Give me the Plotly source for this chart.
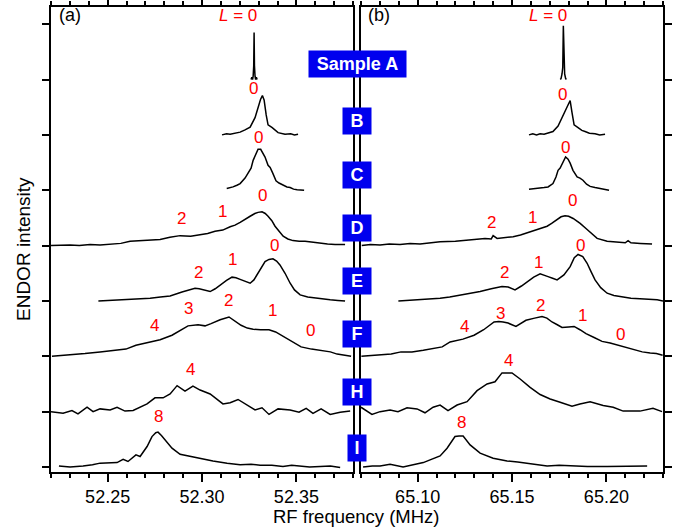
import plotly.graph_objects as go

# ---------------- data ----------------
samples = ["Sample A", "B", "C", "D", "E", "F", "H", "I"]
offsets = [7, 6, 5, 4, 3, 2, 1, 0]

a_left_f = [52.3260, 52.3264, 52.3268, 52.3271, 52.3274, 52.3276, 52.3278, 52.3281, 52.3284, 52.3288, 52.3292]
a_left_i = [0.0, 0.04, 0.0, 0.06, 0.25, 0.85, 0.25, 0.06, 0.0, 0.04, 0.0]
a_right_f = [65.1756, 65.1760, 65.1765, 65.1769, 65.1772, 65.1775, 65.1779, 65.1784, 65.1788]
a_right_i = [0.0, 0.02, 0.10, 0.22, 0.97, 0.22, 0.10, 0.02, 0.0]

b_left_f = [52.3106, 52.3130, 52.3149, 52.3175, 52.3202, 52.3228, 52.3255, 52.3281, 52.3297, 52.3310,
            52.3320, 52.3329, 52.3340, 52.3350, 52.3372, 52.3403, 52.3440, 52.3470, 52.3490, 52.3509]
b_left_i = [0.0, 0.02, 0.01, 0.03, 0.05, 0.09, 0.14, 0.31, 0.51, 0.64,
            0.71, 0.63, 0.36, 0.18, 0.13, 0.04, 0.01, 0.02, 0.0, 0.01]
b_right_f = [65.1590, 65.1610, 65.1630, 65.1649, 65.1670, 65.1691, 65.1717, 65.1744, 65.1765, 65.1786,
             65.1808, 65.1818, 65.1829, 65.1850, 65.1870, 65.1887, 65.1910, 65.1940, 65.1965, 65.1993]
b_right_i = [0.0, 0.02, 0.0, 0.02, 0.01, 0.03, 0.06, 0.16, 0.31, 0.45,
             0.62, 0.40, 0.18, 0.13, 0.08, 0.06, 0.03, 0.02, 0.0, 0.01]

c_left_f = [52.3131, 52.3150, 52.3164, 52.3185, 52.3202, 52.3228, 52.3244, 52.3260, 52.3271, 52.3286,
            52.3297, 52.3311, 52.3323, 52.3334, 52.3350, 52.3361, 52.3376, 52.3392, 52.3408, 52.3430,
            52.3450, 52.3467, 52.3485, 52.3504, 52.3541]
c_left_i = [0.03, 0.04, 0.06, 0.09, 0.12, 0.22, 0.30, 0.40, 0.54, 0.67,
            0.74, 0.74, 0.66, 0.60, 0.45, 0.41, 0.30, 0.17, 0.13, 0.09,
            0.06, 0.05, 0.02, 0.01, 0.0]
c_right_f = [65.1590, 65.1620, 65.1649, 65.1670, 65.1691, 65.1717, 65.1733, 65.1744, 65.1755, 65.1770,
             65.1784, 65.1797, 65.1808, 65.1823, 65.1845, 65.1860, 65.1876, 65.1895, 65.1914, 65.1940,
             65.1967, 65.1990, 65.2014]
c_right_i = [0.02, 0.03, 0.03, 0.05, 0.06, 0.12, 0.24, 0.36, 0.40, 0.49,
             0.60, 0.56, 0.49, 0.36, 0.24, 0.22, 0.18, 0.11, 0.07, 0.05,
             0.03, 0.02, 0.0]

d_left_f = [52.2200, 52.2250, 52.2301, 52.2350, 52.2407, 52.2460, 52.2513, 52.2570, 52.2619, 52.2700,
            52.2778, 52.2830, 52.2884, 52.2940, 52.2990, 52.3030, 52.3069, 52.3110, 52.3149, 52.3175,
            52.3202, 52.3230, 52.3255, 52.3280, 52.3297, 52.3318, 52.3335, 52.3350, 52.3370, 52.3387,
            52.3410, 52.3430, 52.3455, 52.3482, 52.3515, 52.3546, 52.3590, 52.3626, 52.3665, 52.3705, 52.3758]
d_left_i = [0.0, 0.01, 0.01, 0.0, 0.02, 0.01, 0.02, 0.04, 0.08, 0.09,
            0.11, 0.15, 0.18, 0.17, 0.20, 0.22, 0.26, 0.28, 0.34, 0.37,
            0.42, 0.47, 0.53, 0.58, 0.60, 0.61, 0.58, 0.53, 0.45, 0.35,
            0.25, 0.17, 0.12, 0.09, 0.08, 0.08, 0.06, 0.04, 0.03, 0.02, 0.02]
d_right_f = [65.0704, 65.0750, 65.0801, 65.0850, 65.0907, 65.0960, 65.1013, 65.1060, 65.1119, 65.1200,
             65.1278, 65.1320, 65.1357, 65.1390, 65.1400, 65.1421, 65.1460, 65.1506, 65.1545, 65.1580,
             65.1615, 65.1649, 65.1686, 65.1710, 65.1739, 65.1760, 65.1781, 65.1800, 65.1824, 65.1861,
             65.1898, 65.1925, 65.1951, 65.2004, 65.2060, 65.2100, 65.2115, 65.2130, 65.2180, 65.2242]
d_right_i = [0.0, 0.02, 0.01, 0.03, 0.02, 0.04, 0.03, 0.05, 0.07, 0.08,
             0.10, 0.11, 0.13, 0.12, 0.18, 0.13, 0.14, 0.16, 0.19, 0.23,
             0.27, 0.31, 0.35, 0.40, 0.47, 0.52, 0.54, 0.53, 0.49, 0.40,
             0.29, 0.20, 0.13, 0.08, 0.07, 0.05, 0.09, 0.05, 0.04, 0.03]

e_left_f = [52.2451, 52.2510, 52.2566, 52.2620, 52.2680, 52.2725, 52.2780, 52.2831, 52.2894, 52.2930,
            52.2963, 52.2985, 52.3006, 52.3043, 52.3070, 52.3096, 52.3130, 52.3159, 52.3180, 52.3202,
            52.3230, 52.3255, 52.3275, 52.3297, 52.3315, 52.3334, 52.3355, 52.3376, 52.3395, 52.3413,
            52.3440, 52.3467, 52.3490, 52.3520, 52.3560, 52.3599, 52.3640, 52.3679, 52.3720, 52.3758]
e_left_i = [0.0, 0.01, 0.02, 0.03, 0.04, 0.05, 0.07, 0.09, 0.16, 0.20,
            0.23, 0.22, 0.20, 0.17, 0.22, 0.29, 0.37, 0.43, 0.42, 0.39,
            0.35, 0.32, 0.38, 0.50, 0.61, 0.71, 0.75, 0.76, 0.72, 0.65,
            0.50, 0.32, 0.20, 0.11, 0.07, 0.05, 0.03, 0.02, 0.01, 0.0]
e_right_f = [65.0898, 65.0950, 65.1013, 65.1060, 65.1119, 65.1170, 65.1225, 65.1280, 65.1331, 65.1390,
             65.1447, 65.1480, 65.1516, 65.1550, 65.1580, 65.1615, 65.1649, 65.1670, 65.1691, 65.1715,
             65.1739, 65.1775, 65.1808, 65.1830, 65.1850, 65.1875, 65.1898, 65.1920, 65.1940, 65.1970,
             65.2004, 65.2040, 65.2088, 65.2130, 65.2178, 65.2225, 65.2269, 65.2300]
e_right_i = [0.0, 0.01, 0.02, 0.03, 0.05, 0.07, 0.10, 0.13, 0.17, 0.22,
             0.26, 0.25, 0.20, 0.27, 0.35, 0.43, 0.49, 0.47, 0.44, 0.41,
             0.38, 0.47, 0.62, 0.78, 0.84, 0.80, 0.68, 0.52, 0.38, 0.24,
             0.14, 0.10, 0.07, 0.05, 0.04, 0.03, 0.02, 0.0]

f_left_f = [52.2205, 52.2300, 52.2380, 52.2460, 52.2530, 52.2597, 52.2650, 52.2720, 52.2778, 52.2841,
            52.2885, 52.2926, 52.2979, 52.3016, 52.3048, 52.3096, 52.3143, 52.3175, 52.3207, 52.3240,
            52.3271, 52.3310, 52.3355, 52.3390, 52.3419, 52.3472, 52.3525, 52.3580, 52.3631, 52.3680,
            52.3716, 52.3760, 52.3790]
f_left_i = [0.0, 0.02, 0.05, 0.08, 0.10, 0.13, 0.20, 0.25, 0.30, 0.38,
            0.47, 0.55, 0.57, 0.55, 0.59, 0.66, 0.71, 0.63, 0.56, 0.51,
            0.49, 0.48, 0.48, 0.44, 0.38, 0.27, 0.17, 0.13, 0.11, 0.08,
            0.04, 0.02, 0.0]
f_right_f = [65.0702, 65.0750, 65.0801, 65.0860, 65.0912, 65.0970, 65.1030, 65.1087, 65.1130, 65.1172,
             65.1240, 65.1299, 65.1350, 65.1405, 65.1430, 65.1453, 65.1479, 65.1521, 65.1550, 65.1574,
             65.1620, 65.1659, 65.1685, 65.1712, 65.1740, 65.1765, 65.1800, 65.1829, 65.1860, 65.1892,
             65.1935, 65.1977, 65.2020, 65.2062, 65.2105, 65.2147, 65.2190, 65.2232, 65.2265, 65.2298]
f_right_i = [0.0, 0.01, 0.03, 0.04, 0.08, 0.08, 0.11, 0.14, 0.17, 0.26,
             0.31, 0.38, 0.48, 0.62, 0.63, 0.62, 0.60, 0.54, 0.60, 0.65,
             0.69, 0.72, 0.69, 0.62, 0.57, 0.52, 0.53, 0.54, 0.48, 0.41,
             0.34, 0.27, 0.24, 0.20, 0.15, 0.11, 0.08, 0.06, 0.05, 0.02]

h_left_f = [52.2200, 52.2264, 52.2311, 52.2343, 52.2391, 52.2423, 52.2460, 52.2513, 52.2550, 52.2592,
            52.2635, 52.2709, 52.2751, 52.2794, 52.2831, 52.2868, 52.2910, 52.2952, 52.2990, 52.3043,
            52.3111, 52.3149, 52.3191, 52.3239, 52.3281, 52.3318, 52.3355, 52.3403, 52.3467, 52.3514,
            52.3552, 52.3588, 52.3631, 52.3679, 52.3732, 52.3785]
h_left_i = [0.0, -0.03, 0.02, -0.04, 0.08, 0.0, 0.05, 0.03, 0.08, 0.01,
            0.02, 0.14, 0.25, 0.25, 0.32, 0.47, 0.37, 0.46, 0.39, 0.32,
            0.14, 0.16, 0.22, 0.11, 0.03, 0.07, -0.05, 0.05, 0.03, -0.01,
            0.06, -0.03, 0.05, -0.05, -0.01, 0.01]
h_right_f = [65.0700, 65.0758, 65.0801, 65.0854, 65.0896, 65.0944, 65.0997, 65.1039, 65.1082, 65.1119,
             65.1161, 65.1209, 65.1262, 65.1315, 65.1368, 65.1410, 65.1447, 65.1500, 65.1543, 65.1596,
             65.1649, 65.1702, 65.1755, 65.1818, 65.1860, 65.1914, 65.1983, 65.2036, 65.2089, 65.2178,
             65.2247, 65.2295]
h_right_i = [0.08, -0.05, 0.0, 0.03, 0.0, 0.07, 0.05, -0.02, 0.08, 0.12,
             0.02, 0.12, 0.18, 0.38, 0.50, 0.54, 0.70, 0.70, 0.59, 0.44,
             0.31, 0.23, 0.17, 0.10, 0.14, 0.18, 0.11, 0.08, 0.01, 0.01,
             0.06, 0.0]

i_left_f = [52.2242, 52.2301, 52.2370, 52.2420, 52.2460, 52.2513, 52.2550, 52.2582, 52.2608, 52.2650,
            52.2672, 52.2709, 52.2735, 52.2755, 52.2767, 52.2785, 52.2804, 52.2841, 52.2884, 52.2937,
            52.2990, 52.3058, 52.3133, 52.3202, 52.3260, 52.3308, 52.3370, 52.3429, 52.3475, 52.3520,
            52.3570, 52.3626, 52.3680, 52.3732]
i_left_i = [0.02, 0.0, 0.02, 0.04, 0.07, 0.08, 0.08, 0.14, 0.10, 0.22,
            0.19, 0.37, 0.55, 0.62, 0.63, 0.57, 0.49, 0.34, 0.23, 0.19,
            0.16, 0.11, 0.07, 0.04, 0.05, 0.03, 0.03, 0.01, 0.03, 0.02,
            0.0, 0.01, 0.02, -0.01]
i_right_f = [65.0711, 65.0760, 65.0801, 65.0854, 65.0923, 65.0960, 65.0997, 65.1030, 65.1066, 65.1119,
             65.1156, 65.1198, 65.1219, 65.1241, 65.1278, 65.1331, 65.1400, 65.1474, 65.1530, 65.1580,
             65.1630, 65.1686, 65.1750, 65.1823, 65.1900, 65.2004, 65.2100, 65.2216]
i_right_i = [0.0, 0.02, 0.02, 0.05, 0.0, 0.03, 0.05, 0.08, 0.13, 0.20,
             0.34, 0.55, 0.56, 0.56, 0.40, 0.25, 0.16, 0.11, 0.09, 0.07,
             0.04, 0.02, 0.03, 0.02, 0.01, 0.01, 0.02, 0.02]

left_f = [a_left_f, b_left_f, c_left_f, d_left_f, e_left_f, f_left_f, h_left_f, i_left_f]
left_i = [a_left_i, b_left_i, c_left_i, d_left_i, e_left_i, f_left_i, h_left_i, i_left_i]
right_f = [a_right_f, b_right_f, c_right_f, d_right_f, e_right_f, f_right_f, h_right_f, i_right_f]
right_i = [a_right_i, b_right_i, c_right_i, d_right_i, e_right_i, f_right_i, h_right_i, i_right_i]

# peak labels (frequency, stacked intensity, text)
left_lab_f = [52.3191, 52.3271, 52.3297, 52.2894, 52.3106, 52.3318, 52.2984, 52.3164, 52.3382,
              52.2746, 52.2931, 52.3143, 52.3371, 52.3573, 52.2940, 52.2772]
left_lab_y = [8.16, 6.84, 5.96, 4.49, 4.61, 4.91, 3.52, 3.74, 4.01,
              2.56, 2.87, 3.01, 2.82, 2.47, 1.77, 0.91]
right_lab_f = [65.1691, 65.1765, 65.1781, 65.1394, 65.1606, 65.1818, 65.1458, 65.1643, 65.1861,
               65.1246, 65.1437, 65.1649, 65.1876, 65.2073, 65.1479, 65.1235]
right_lab_y = [8.16, 6.73, 5.78, 4.42, 4.51, 4.82, 3.52, 3.70, 4.01,
               2.53, 2.78, 2.92, 2.73, 2.40, 1.93, 0.81]
lab_text = ["<i>L</i> = 0", "0", "0", "2", "1", "0", "2", "1", "0",
            "4", "3", "2", "1", "0", "4", "8"]

box_y = [7.28, 6.245, 5.27, 4.31, 3.36, 2.40, 1.35, 0.35]

x_left_range = [52.22, 52.38]
x_right_range = [65.07, 65.23]
y_range = [-0.09, 8.31]
y_ticks = [0, 1, 2, 3, 4, 5, 6, 7, 8]

# ---------------- figure ----------------
FONT = "Liberation Sans, Arial, Helvetica, sans-serif"
fig = go.Figure()

for k in range(len(samples)):
    fig.add_trace(go.Scatter(x=left_f[k], y=[v + offsets[k] for v in left_i[k]],
                             mode="lines", line=dict(color="black", width=1.5),
                             xaxis="x", yaxis="y", hoverinfo="skip"))
    fig.add_trace(go.Scatter(x=right_f[k], y=[v + offsets[k] for v in right_i[k]],
                             mode="lines", line=dict(color="black", width=1.5),
                             xaxis="x2", yaxis="y2", hoverinfo="skip"))

ann = []
for fx, fy, t in zip(left_lab_f, left_lab_y, lab_text):
    ann.append(dict(x=fx, y=fy, xref="x", yref="y", text=t, showarrow=False,
                    font=dict(family=FONT, size=17, color="#ff0000")))
for fx, fy, t in zip(right_lab_f, right_lab_y, lab_text):
    ann.append(dict(x=fx, y=fy, xref="x2", yref="y2", text=t, showarrow=False,
                    font=dict(family=FONT, size=17, color="#ff0000")))

for name, yy in zip(samples, box_y):
    w = 91 if len(name) > 1 else (12 if name == "I" else 22)
    ann.append(dict(x=0.5, y=yy, xref="paper", yref="y", text="<b>%s</b>" % name,
                    showarrow=False, bgcolor="#0000ee", borderpad=3, width=w, height=20,
                    font=dict(family=FONT, size=18, color="white")))

ann.append(dict(x=(70 - 51) / 302, y=(472 - 15) / 465, xref="x domain", yref="y domain",
                text="(a)", showarrow=False, xanchor="center", yanchor="middle",
                font=dict(family=FONT, size=18, color="black")))
ann.append(dict(x=(379 - 361) / 302, y=(472 - 15) / 465, xref="x2 domain", yref="y domain",
                text="(b)", showarrow=False, xanchor="center", yanchor="middle",
                font=dict(family=FONT, size=18, color="black")))
ann.append(dict(x=(356 - 51) / 612, y=(472 - 516) / 465, xref="paper", yref="paper",
                text="RF frequency (MHz)", showarrow=False, xanchor="center", yanchor="middle",
                font=dict(family=FONT, size=18.5, color="black")))
ann.append(dict(x=(23 - 51) / 612, y=(472 - 249) / 465, xref="paper", yref="paper",
                text="ENDOR intensity", showarrow=False, textangle=-90,
                xanchor="center", yanchor="middle",
                font=dict(family=FONT, size=19, color="black")))

xcommon = dict(dtick=0.05, tickformat=".2f", ticks="outside", ticklen=8, tickwidth=1.5,
               tickcolor="black", showline=True, linecolor="black", linewidth=1.5,
               mirror="ticks", showgrid=False, zeroline=False, automargin=False,
               tickfont=dict(family=FONT, size=18, color="black"),
               minor=dict(dtick=0.01, ticks="outside", ticklen=4, tickwidth=1.5,
                          tickcolor="black", showgrid=False))
ycommon = dict(range=y_range, tickvals=y_ticks, showticklabels=False, ticks="outside",
               ticklen=7, tickwidth=1.5, tickcolor="black", showline=True, automargin=False,
               linecolor="black", linewidth=1.5, mirror=True, showgrid=False, zeroline=False)

fig.update_layout(
    width=680, height=528,
    margin=dict(l=51, r=17, t=7, b=56, autoexpand=False),
    plot_bgcolor="white", paper_bgcolor="white", showlegend=False,
    xaxis=dict(domain=[0, 302 / 612], range=x_left_range, anchor="y", **xcommon),
    xaxis2=dict(domain=[310 / 612, 1], range=x_right_range, anchor="y2", **xcommon),
    yaxis=dict(anchor="x", side="left", **ycommon),
    yaxis2=dict(anchor="x2", side="right", **ycommon),
    annotations=ann,
    font=dict(family=FONT, color="black"),
)

fig.write_html("out.html", config={"displayModeBar": False},
               post_script="document.body.style.margin='0px';document.body.style.overflow='hidden';")
